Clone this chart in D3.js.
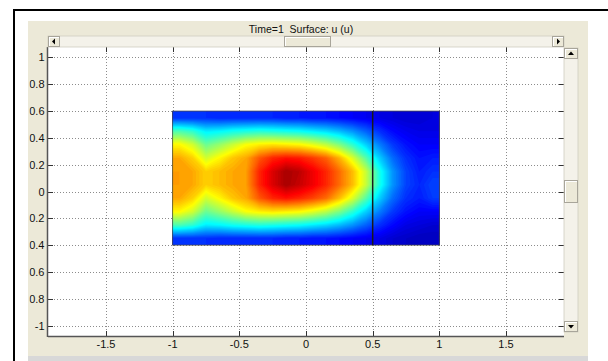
<!DOCTYPE html>
<html>
<head>
<meta charset="utf-8">
<script src="https://cdn.jsdelivr.net/npm/d3@7"></script>
<style>
  html, body { margin: 0; padding: 0; background: #fff; }
  svg { display: block; }
  text { font-family: "Liberation Sans", Arial, sans-serif; fill: #111; }
</style>
</head>
<body>
<div id="chart"></div>
<script>
// ---- data ----
const title = "Time=1  Surface: u (u)"
const xTicks = [-1.5, -1, -0.5, 0, 0.5, 1, 1.5]
const yTicks = [-1, -0.8, -0.6, -0.4, -0.2, 0, 0.2, 0.4, 0.6, 0.8, 1]

// cell centres of the sampled field (x from -1 to 1, y from 0.6 down to -0.4)
const xCenters = [-0.95, -0.85, -0.75, -0.65, -0.55, -0.45, -0.35, -0.25, -0.15, -0.05,
                  0.05, 0.15, 0.25, 0.35, 0.45, 0.55, 0.65, 0.75, 0.85, 0.95]
const yCenters = [0.55, 0.45, 0.35, 0.25, 0.15, 0.05, -0.05, -0.15, -0.25, -0.35]

// u, normalised to the colour range, one row per yCenter
const row055 = [.17,.17,.17,.16,.16,.16,.16,.16,.15,.15,.14,.14,.13,.12,.11,.10,.09,.08,.08,.09]
const row045 = [.45,.42,.36,.37,.39,.40,.41,.40,.39,.38,.36,.34,.31,.27,.22,.17,.13,.11,.10,.10]
const row035 = [.63,.58,.48,.52,.57,.62,.64,.65,.64,.63,.60,.56,.50,.42,.33,.25,.18,.14,.12,.12]
const row025 = [.71,.67,.58,.63,.68,.71,.79,.84,.86,.85,.82,.78,.70,.59,.46,.33,.23,.17,.14,.15]
const row015 = [.72,.71,.67,.69,.71,.72,.84,.91,.96,.94,.89,.84,.77,.69,.57,.40,.27,.19,.15,.17]
const row005 = [.72,.71,.67,.69,.71,.72,.84,.91,.96,.93,.89,.84,.77,.69,.57,.40,.27,.19,.16,.19]
const rowm005 = [.71,.67,.58,.63,.68,.71,.79,.84,.86,.84,.81,.77,.69,.59,.46,.33,.23,.17,.15,.18]
const rowm015 = [.63,.58,.48,.52,.57,.62,.64,.65,.64,.63,.60,.56,.50,.42,.33,.25,.18,.14,.12,.12]
const rowm025 = [.45,.42,.36,.37,.39,.40,.41,.40,.39,.38,.36,.34,.31,.27,.22,.17,.13,.10,.09,.08]
const rowm035 = [.17,.17,.17,.16,.16,.16,.16,.16,.15,.15,.14,.14,.13,.12,.11,.10,.08,.07,.06,.06]
const uRows = [row055, row045, row035, row025, row015, row005, rowm005, rowm015, rowm025, rowm035]

// geometry boundary between the two sub domains
const splitX = 0.5

// ---- layout ----
const W = 608, H = 361
const ax = {left: 48, right: 564, top: 47, bottom: 336}

const svg = d3.select("#chart").append("svg")
  .attr("width", W).attr("height", H)

svg.append("rect").attr("width", W).attr("height", H).attr("fill", "#fff")

// black frame of the window
svg.append("line").attr("x1", 14).attr("x2", W).attr("y1", 10).attr("y2", 10)
  .attr("stroke", "#000").attr("stroke-width", 2)
svg.append("line").attr("x1", 14).attr("x2", 14).attr("y1", 9).attr("y2", H)
  .attr("stroke", "#000").attr("stroke-width", 2)

// figure panel
svg.append("rect").attr("x", 28).attr("y", 21).attr("width", 560).attr("height", 335).attr("fill", "#ece9d8")
svg.append("rect").attr("x", 28).attr("y", 356).attr("width", 560).attr("height", 5).attr("fill", "#d8d8d8")

const x = d3.scaleLinear().domain([-1.935, 1.935]).range([ax.left, ax.right])
const y = d3.scaleLinear().domain([-1.078, 1.078]).range([ax.bottom, ax.top])

// axes background
svg.append("rect").attr("x", ax.left).attr("y", ax.top)
  .attr("width", ax.right - ax.left).attr("height", ax.bottom - ax.top).attr("fill", "#fff")

// dotted grid
const grid = svg.append("g").attr("stroke", "#8c8c8c").attr("stroke-dasharray", "1,2").attr("stroke-width", 1)
grid.selectAll("line.gx").data(xTicks).join("line")
  .attr("x1", d => Math.round(x(d)) + 0.5).attr("x2", d => Math.round(x(d)) + 0.5)
  .attr("y1", ax.top).attr("y2", ax.bottom)
grid.selectAll("line.gy").data(yTicks).join("line")
  .attr("y1", d => Math.round(y(d)) + 0.5).attr("y2", d => Math.round(y(d)) + 0.5)
  .attr("x1", ax.left).attr("x2", ax.right)

// ---- surface ----
const jet = d3.scaleLinear()
  .domain([0, 0.125, 0.375, 0.625, 0.875, 1])
  .range(["#00007f", "#0000ff", "#00ffff", "#ffff00", "#ff0000", "#7f0000"])
  .clamp(true)

const nx = xCenters.length, ny = yCenters.length
const cw = xCenters[1] - xCenters[0]
const ch = yCenters[0] - yCenters[1]
const x0 = xCenters[0] - cw / 2, y0 = yCenters[0] + ch / 2

// replicate the edge samples once so the bands run cleanly to the border
const pad = []
for (let j = -1; j <= ny; j++) {
  const r = uRows[Math.max(0, Math.min(ny - 1, j))]
  for (let i = -1; i <= nx; i++) pad.push(r[Math.max(0, Math.min(nx - 1, i))])
}

const thresholds = d3.range(0, 1, 0.01)
const contours = d3.contours().size([nx + 2, ny + 2]).thresholds(thresholds)(pad)

const proj = d3.geoTransform({
  point: function (gx, gy) {
    this.stream.point(x(x0 + (gx - 1) * cw), y(y0 - (gy - 1) * ch))
  }
})
const path = d3.geoPath(proj)

const fx0 = x(x0), fx1 = x(x0 + nx * cw), fy0 = y(y0), fy1 = y(y0 - ny * ch)

svg.append("clipPath").attr("id", "field")
  .append("rect").attr("x", fx0).attr("y", fy0).attr("width", fx1 - fx0).attr("height", fy1 - fy0)

const field = svg.append("g").attr("clip-path", "url(#field)")
field.append("rect").attr("x", fx0).attr("y", fy0).attr("width", fx1 - fx0).attr("height", fy1 - fy0)
  .attr("fill", jet(0))
field.selectAll("path").data(contours).join("path")
  .attr("d", path)
  .attr("fill", d => jet(d.value + 0.005))

// domain edges
svg.append("rect").attr("x", fx0).attr("y", fy0).attr("width", fx1 - fx0).attr("height", fy1 - fy0)
  .attr("fill", "none").attr("stroke", "#4a4a4a").attr("stroke-width", 0.8)
svg.append("line").attr("x1", x(splitX)).attr("x2", x(splitX)).attr("y1", fy0).attr("y2", fy1)
  .attr("stroke", "#1a1a1a").attr("stroke-width", 1.5)

// ---- axes box + ticks (inside, on all four sides) ----
const tk = svg.append("g").attr("stroke", "#333").attr("stroke-width", 1)
xTicks.forEach(d => {
  const px = Math.round(x(d)) + 0.5
  tk.append("line").attr("x1", px).attr("x2", px).attr("y1", ax.bottom).attr("y2", ax.bottom - 5)
  tk.append("line").attr("x1", px).attr("x2", px).attr("y1", ax.top).attr("y2", ax.top + 5)
})
yTicks.forEach(d => {
  const py = Math.round(y(d)) + 0.5
  tk.append("line").attr("y1", py).attr("y2", py).attr("x1", ax.left).attr("x2", ax.left + 5)
  tk.append("line").attr("y1", py).attr("y2", py).attr("x1", ax.right).attr("x2", ax.right - 5)
})
svg.append("line").attr("x1", ax.left - 0.5).attr("x2", ax.left - 0.5).attr("y1", ax.top).attr("y2", ax.bottom + 1)
  .attr("stroke", "#555").attr("stroke-width", 1.5)
svg.append("line").attr("x1", ax.left).attr("x2", ax.right).attr("y1", ax.bottom + 0.5).attr("y2", ax.bottom + 0.5)
  .attr("stroke", "#555").attr("stroke-width", 1.5)

// tick labels
svg.append("g").selectAll("text").data(xTicks).join("text")
  .attr("x", d => x(d)).attr("y", 348)
  .attr("text-anchor", "middle").attr("font-size", 11)
  .text(d => String(d))

svg.append("clipPath").attr("id", "panelclip")
  .append("rect").attr("x", 29.5).attr("y", 21).attr("width", 560).attr("height", 335)
svg.append("g").attr("clip-path", "url(#panelclip)")
  .selectAll("text").data(yTicks).join("text")
  .attr("x", 44.5).attr("y", d => y(d) + 4)
  .attr("text-anchor", "end").attr("font-size", 11)
  .text(d => String(d))

// title
svg.append("text").attr("x", 301).attr("y", 33)
  .attr("text-anchor", "middle").attr("font-size", 10.5)
  .style("white-space", "pre")
  .text(title)

// ---- scrollbars ----
function button(g, bx, by, bw, bh) {
  g.append("rect").attr("x", bx + 0.5).attr("y", by + 0.5).attr("width", bw - 1).attr("height", bh - 1)
    .attr("fill", "#ece9d8").attr("stroke", "#a8a59a")
  g.append("line").attr("x1", bx + 1).attr("x2", bx + bw - 1).attr("y1", by + 1.5).attr("y2", by + 1.5).attr("stroke", "#fff")
  g.append("line").attr("x1", bx + 1.5).attr("x2", bx + 1.5).attr("y1", by + 1).attr("y2", by + bh - 1).attr("stroke", "#fff")
}
const sb = svg.append("g")
// horizontal
sb.append("rect").attr("x", ax.left).attr("y", 36).attr("width", ax.right - ax.left).attr("height", 11)
  .attr("fill", "#f4f2ea").attr("stroke", "#d0cdc0").attr("stroke-width", 0.8)
button(sb, ax.left, 36, 12, 11)
button(sb, ax.right - 12, 36, 12, 11)
button(sb, 284, 36, 47, 11)
sb.append("path").attr("d", `M${ax.left + 4},41.5 L${ax.left + 7},38.5 L${ax.left + 7},44.5 Z`).attr("fill", "#000")
sb.append("path").attr("d", `M${ax.right - 4},41.5 L${ax.right - 7},38.5 L${ax.right - 7},44.5 Z`).attr("fill", "#000")
// vertical
sb.append("rect").attr("x", ax.right).attr("y", 48).attr("width", 14).attr("height", 284)
  .attr("fill", "#f4f2ea").attr("stroke", "#d0cdc0").attr("stroke-width", 0.8)
button(sb, ax.right, 48, 14, 11)
button(sb, ax.right, 321, 14, 11)
button(sb, ax.right, 180, 14, 23)
sb.append("path").attr("d", `M${ax.right + 7},51.5 L${ax.right + 4},55 L${ax.right + 10},55 Z`).attr("fill", "#000")
sb.append("path").attr("d", `M${ax.right + 7},328.5 L${ax.right + 4},325 L${ax.right + 10},325 Z`).attr("fill", "#000")
</script>
</body>
</html>
